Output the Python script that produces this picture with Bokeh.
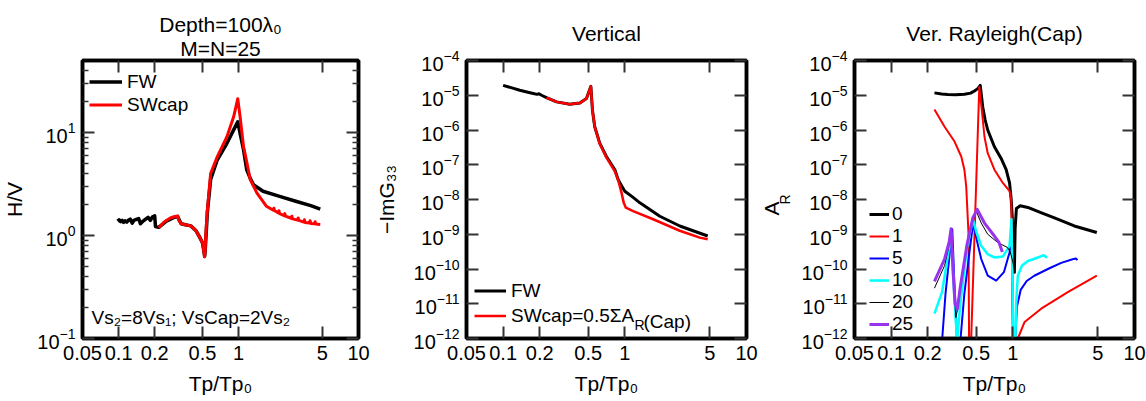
import math
from bokeh.plotting import figure
from bokeh.layouts import row
from bokeh.models import (FixedTicker, LogAxis, Label, Legend, LegendItem, Title,
                          CustomJSTickFormatter, Range1d)
from bokeh.embed import file_html
from bokeh.resources import INLINE

FONT = "Liberation Sans"

# ---------------- ticks ----------------
x_ticks = [0.05, 0.1, 0.2, 0.5, 1, 5, 10]
hv_y_ticks = [0.1, 1, 10]
hv_y_minor = [0.2, 0.3, 0.4, 0.5, 0.6, 0.7, 0.8, 0.9, 2, 3, 4, 5, 6, 7, 8, 9, 20, 30, 40]
g_y_ticks = [1e-12, 1e-11, 1e-10, 1e-9, 1e-8, 1e-7, 1e-6, 1e-5, 1e-4]

# ---------------- panel 1: H/V ----------------
hv_fw_x = [0.098, 0.101, 0.104, 0.107, 0.110, 0.113, 0.117, 0.121, 0.125, 0.130,
           0.134, 0.140, 0.147, 0.152, 0.160, 0.168, 0.176, 0.184, 0.192, 0.200,
           0.203, 0.216, 0.25, 0.29, 0.311, 0.332, 0.36, 0.40, 0.44, 0.47,
           0.50, 0.515, 0.522, 0.53, 0.55, 0.585, 0.664, 0.80, 0.91, 0.985,
           1.03, 1.10, 1.17, 1.25, 1.33, 1.60, 2.2, 3.0, 4.0, 4.8]
hv_fw_y = [1.38, 1.42, 1.36, 1.40, 1.34, 1.39, 1.35, 1.41, 1.44, 1.32,
           1.40, 1.43, 1.46, 1.30, 1.38, 1.44, 1.50, 1.40, 1.52, 1.55,
           1.22, 1.20, 1.38, 1.50, 1.52, 1.30, 1.27, 1.24, 1.12, 0.98,
           0.85, 0.70, 0.63, 0.80, 1.70, 3.5, 5.4, 7.85, 10.6, 12.7,
           9.8, 6.8, 4.35, 3.6, 3.12, 2.69, 2.4, 2.15, 1.95, 1.80]

hv_sw_x = [0.216, 0.24, 0.27, 0.29, 0.311, 0.318, 0.332, 0.36, 0.40, 0.44,
           0.47, 0.50, 0.512, 0.52, 0.526, 0.535, 0.55, 0.585, 0.664, 0.80,
           0.91, 0.985, 1.03, 1.10, 1.17, 1.25, 1.42, 1.71, 1.95, 1.97,
           2.0, 2.15, 2.17, 2.2, 2.4, 2.43, 2.46, 2.75, 2.78, 2.82, 3.1,
           3.14, 3.18, 3.5, 3.54, 3.58, 3.9, 3.95, 4.0, 4.3, 4.35, 4.4, 4.8]
hv_sw_y = [1.19, 1.35, 1.48, 1.52, 1.55, 1.40, 1.30, 1.27, 1.24, 1.12,
           0.98, 0.85, 0.72, 0.62, 0.70, 1.10, 1.79, 4.0, 5.8, 9.1,
           14.2, 21.3, 14.2, 7.3, 5.2, 3.5, 2.59, 1.92, 1.76, 1.84,
           1.74, 1.66, 1.74, 1.63, 1.56, 1.63, 1.54, 1.47, 1.54, 1.45, 1.41,
           1.48, 1.40, 1.35, 1.42, 1.34, 1.32, 1.39, 1.31, 1.30, 1.36, 1.29, 1.28]

# ---------------- panel 2: -ImG33 ----------------
g_fw_x = [0.10, 0.12, 0.137, 0.16, 0.177, 0.19, 0.197, 0.207, 0.227, 0.275,
          0.353, 0.427, 0.484, 0.526, 0.542, 0.566, 0.622, 0.706, 0.828, 0.882,
          0.94, 1.0, 1.17, 1.33, 1.94, 2.83, 4.8]
g_fw_y = [1.93e-5, 1.6e-5, 1.39e-5, 1.22e-5, 1.12e-5, 1.06e-5, 1.1e-5, 1.0e-5, 8.6e-6, 6.45e-6,
          5.5e-6, 6.0e-6, 8.0e-6, 1.8e-5, 3.7e-6, 1.24e-6, 4.2e-7, 1.73e-7, 7.2e-8, 3.7e-8,
          2.5e-8, 1.73e-8, 1.15e-8, 8.0e-9, 3.3e-9, 1.73e-9, 8.9e-10]

g_sw_x = [0.227, 0.275, 0.353, 0.427, 0.484, 0.526, 0.542, 0.566, 0.622, 0.706,
          0.828, 0.882, 0.94, 0.98, 1.02, 1.17, 1.71, 2.83, 4.13, 4.8]
g_sw_y = [8.6e-6, 6.45e-6, 5.5e-6, 6.0e-6, 8.0e-6, 1.8e-5, 3.7e-6, 1.24e-6, 4.0e-7, 1.6e-7,
          6.5e-8, 3.6e-8, 1.55e-8, 8.0e-9, 5.8e-9, 4.65e-9, 2.7e-9, 1.26e-9, 8.0e-10, 7.2e-10]

# ---------------- panel 3: A_R per mode ----------------
m0_x = [0.227, 0.26, 0.292, 0.34, 0.40, 0.45, 0.484, 0.515, 0.54, 0.566,
        0.593, 0.622, 0.706, 0.80, 0.882, 0.94, 0.97, 0.99, 1.01, 1.03,
        1.045, 1.07, 1.15, 1.33, 1.7, 2.2, 3.2, 4.9]
m0_y = [1.17e-5, 1.08e-5, 1.05e-5, 1.04e-5, 1.07e-5, 1.15e-5, 1.33e-5, 1.55e-5, 1.93e-5, 4.6e-6,
        1.94e-6, 1.0e-6, 3.3e-7, 1.55e-7, 7.2e-8, 3.0e-8, 1.0e-8, 3.0e-9, 5e-10, 8e-11,
        1.5e-9, 5.5e-9, 6.6e-9, 5.9e-9, 4.2e-9, 2.96e-9, 1.73e-9, 1.12e-9]

m1_x = [0.227, 0.275, 0.332, 0.377, 0.40, 0.414, 0.432, 0.437, 0.446, 0.455,
        0.53, 0.556, 0.585, 0.622, 0.706, 0.828, 0.94, 0.97, 0.98, 1.0,
        1.05, 1.10, 1.25, 1.71, 2.83, 4.9]
m1_y = [3.9e-6, 1.24e-6, 4.65e-7, 1.73e-7, 7.2e-8, 2.4e-8, 1.1e-9, 1e-12, 1e-15, 1e-12,
        1.73e-5, 3.7e-6, 6.4e-7, 2.15e-7, 7.2e-8, 3.0e-8, 1.73e-8, 1.0e-8, 1.7e-9, 1e-12,
        1e-15, 1e-12, 3.0e-12, 7.2e-12, 2.15e-11, 6.4e-11]

m5_x = [0.255, 0.263, 0.28, 0.30, 0.318, 0.33, 0.345, 0.355, 0.372, 0.40,
        0.44, 0.472, 0.50, 0.55, 0.622, 0.73, 0.845, 0.94, 0.975, 0.99,
        1.005, 1.02, 1.04, 1.05, 1.08, 1.16, 1.3, 1.5, 2.0, 2.5, 3.1, 3.3, 3.4]
m5_y = [3e-13, 1e-12, 2e-11, 2e-10, 1.4e-9, 5e-11, 2e-12, 1e-14, 1e-12, 2e-11,
        3e-10, 2.1e-9, 8e-10, 1.94e-10, 6.4e-11, 4.65e-11, 8.1e-11, 3.0e-10, 1.2e-9, 1e-10,
        1e-12, 1e-14, 1e-13, 1e-12, 8e-12, 2.5e-11, 4.5e-11, 6.4e-11, 1.05e-10, 1.5e-10, 1.9e-10, 2.0e-10, 1.8e-10]

m10_x = [0.227, 0.262, 0.29, 0.311, 0.325, 0.34, 0.35, 0.37, 0.42, 0.47,
         0.50, 0.55, 0.62, 0.706, 0.83, 0.94, 0.975, 0.99, 1.01, 1.03,
         1.05, 1.07, 1.10, 1.19, 1.33, 1.49, 1.8, 1.91]
m10_y = [5.2e-12, 2.15e-11, 1.94e-10, 1.1e-9, 5e-11, 3e-12, 1e-12, 1e-11, 4e-10, 2.7e-9,
         1.2e-9, 4.65e-10, 2.7e-10, 2.15e-10, 2.3e-10, 4.65e-10, 2.7e-9, 1e-10, 1e-12, 1e-13,
         1e-12, 1.4e-11, 6.4e-11, 1.26e-10, 1.7e-10, 1.94e-10, 2.5e-10, 2.1e-10]

m20_x = [0.227, 0.275, 0.30, 0.311, 0.325, 0.34, 0.355, 0.38, 0.42, 0.47,
         0.50, 0.55, 0.622, 0.75, 0.90, 0.95, 1.0, 1.04]
m20_y = [2.8e-11, 1.26e-10, 5e-10, 1.4e-9, 6e-11, 4e-12, 8e-12, 6e-11, 5e-10, 2.5e-9,
         4.7e-9, 2.1e-9, 1.0e-9, 5.8e-10, 4.2e-10, 3.2e-10, 1.6e-10, 8e-11]

m25_x = [0.227, 0.275, 0.30, 0.311, 0.322, 0.335, 0.35, 0.37, 0.42, 0.47,
         0.51, 0.585, 0.706, 0.77, 0.82]
m25_y = [4.4e-11, 1.94e-10, 6e-10, 1.45e-9, 1e-10, 1e-11, 7e-12, 3e-11, 5e-10, 3e-9,
         5.2e-9, 2.1e-9, 8.9e-10, 5.8e-10, 3.1e-10]

mode_names = ["0", "1", "5", "10", "20", "25"]
mode_colors = ["black", "#ff0000", "#0000ff", "#00ffff", "black", "#9933ee"]
mode_widths = [3, 2, 2, 2.5, 1, 3]


def style_axis(ax, ticker, show_labels):
    ax.ticker = ticker
    ax.axis_line_width = 3.5
    ax.axis_line_color = "black"
    ax.major_tick_in = 12
    ax.major_tick_out = 0
    ax.minor_tick_in = 6
    ax.minor_tick_out = 0
    ax.major_tick_line_width = 2
    ax.minor_tick_line_width = 1.5
    ax.major_tick_line_color = "#333333"
    ax.minor_tick_line_color = "#333333"
    ax.major_label_text_font = FONT
    ax.major_label_text_font_size = "20px"
    ax.major_label_text_color = "black"
    ax.axis_label_text_font = FONT
    ax.axis_label_text_font_size = "21px"
    ax.axis_label_text_font_style = "normal"
    ax.axis_label_text_color = "black"
    if not show_labels:
        ax.formatter = CustomJSTickFormatter(code="return ''")
        ax.major_label_standoff = 0
        ax.major_label_text_font_size = "1px"


def make_fig(width, border_left, border_right, yr, yticks, yminor):
    p = figure(width=width, height=401, x_axis_type="log", y_axis_type="log",
               x_range=Range1d(0.05, 10), y_range=Range1d(*yr),
               output_backend="svg", toolbar_location=None,
               min_border_left=border_left, min_border_right=border_right,
               min_border_top=60, min_border_bottom=63)
    p.xgrid.visible = False
    p.ygrid.visible = False
    p.outline_line_color = "black"
    p.outline_line_width = 3.5
    p.background_fill_color = "white"
    p.border_fill_color = "white"
    xt = FixedTicker(ticks=x_ticks, minor_ticks=[])
    yt = FixedTicker(ticks=yticks, minor_ticks=yminor)
    style_axis(p.xaxis[0], xt, True)
    p.xaxis[0].formatter = CustomJSTickFormatter(code="return tick.toString()")
    p.xaxis[0].major_label_standoff = 7
    p.xaxis[0].axis_label_standoff = 9
    p.xaxis[0].axis_label = "Tp/Tp\u2080"
    style_axis(p.yaxis[0], yt, True)
    p.yaxis[0].major_label_standoff = 7
    p.yaxis[0].axis_label_standoff = 14
    top = LogAxis()
    style_axis(top, xt, False)
    p.add_layout(top, "above")
    right = LogAxis()
    style_axis(right, yt, False)
    p.add_layout(right, "right")
    return p


def set_title(p, text, standoff):
    p.title.text = text
    p.title.align = "center"
    p.title.text_font = FONT
    p.title.text_font_size = "21px"
    p.title.text_font_style = "normal"
    p.title.text_color = "black"
    p.title.standoff = standoff


def add_label(p, text, x, y, size="21px", align="left"):
    p.add_layout(Label(x=x, y=y, x_units="screen", y_units="screen", text=text,
                       text_font=FONT, text_font_size=size, text_align=align,
                       text_baseline="alphabetic", text_color="black"))


def make_legend(items, loc, gw, lh, standoff):
    return Legend(items=items, location=loc, padding=0, margin=0, spacing=0,
                  glyph_width=gw, glyph_height=lh, label_height=lh,
                  label_standoff=standoff, label_text_font=FONT,
                  label_text_font_size="19px", label_text_color="black",
                  background_fill_alpha=0, border_line_alpha=0)


# ---- panel 1
p1 = make_fig(370, 78, 12, (0.1, 50), hv_y_ticks, hv_y_minor)
p1.yaxis[0].axis_label = "H/V"
p1.yaxis[0].axis_label_standoff = 8
r_fw1 = p1.line(hv_fw_x, hv_fw_y, line_color="black", line_width=3.5, line_join="round")
r_sw1 = p1.line(hv_sw_x, hv_sw_y, line_color="#ff0000", line_width=3, line_join="round")
p1.add_layout(make_legend([LegendItem(label="FW", renderers=[r_fw1]),
                           LegendItem(label="SWcap", renderers=[r_sw1])],
                          (7, 222), 33, 23, 5))
add_label(p1, "Vs\u2082=8Vs\u2081; VsCap=2Vs\u2082", 9, 21, size="19px")
p1.add_layout(Title(text="M=N=25", align="center", text_font=FONT, text_font_size="21px",
                    text_font_style="normal", text_color="black", standoff=1), "above")
set_title(p1, "Depth=100\u03bb\u2080", -2)

# ---- panel 2
p2 = make_fig(388, 96, 12, (1e-12, 1e-4), g_y_ticks, [])
p2.yaxis[0].axis_label = "\u2212ImG\u2083\u2083"
p2.yaxis[0].axis_label_standoff = 13
r_fw2 = p2.line(g_fw_x, g_fw_y, line_color="black", line_width=3, line_join="round")
r_sw2 = p2.line(g_sw_x, g_sw_y, line_color="#ff0000", line_width=2.5, line_join="round")
p2.add_layout(make_legend([LegendItem(label="FW", renderers=[r_fw2]),
                           LegendItem(label="SWcap=0.5\u03a3A", renderers=[r_sw2])],
                          (8, 10), 32, 25, 5))
add_label(p2, "R", 168, 14, size="14px")
add_label(p2, "(Cap)", 177, 17, size="19px")
set_title(p2, "Vertical", 31)

# ---- panel 3
p3 = make_fig(388, 96, 12, (1e-12, 1e-4), g_y_ticks, [])
mode_x = [m0_x, m1_x, m5_x, m10_x, m20_x, m25_x]
mode_y = [m0_y, m1_y, m5_y, m10_y, m20_y, m25_y]
items = []
for name, xs, ys, c, w in zip(mode_names, mode_x, mode_y, mode_colors, mode_widths):
    r = p3.line(xs, ys, line_color=c, line_width=w, line_join="round")
    items.append(LegendItem(label=name, renderers=[r]))
p3.add_layout(make_legend(items, (15, 3), 20, 22, 3))
# axis label A_R : subscript R as the axis label, A as an outer title
p3.yaxis[0].axis_label = "R"
p3.yaxis[0].axis_label_text_font_size = "14px"
p3.yaxis[0].axis_label_standoff = 6
p3.add_layout(Title(text="A", align="left", offset=123, text_font=FONT, text_font_size="21px",
                    text_font_style="normal", text_color="black", standoff=-19), "left")
set_title(p3, "Ver. Rayleigh(Cap)", 31)

layout = row(p1, p2, p3)
open("out.html", "w").write(file_html(layout, INLINE))
